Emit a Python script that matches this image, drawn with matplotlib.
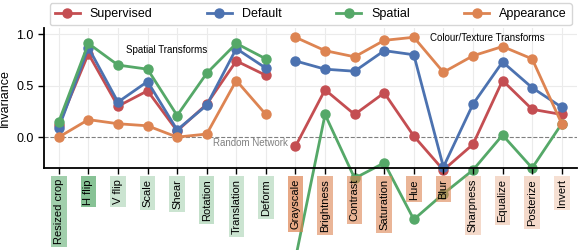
import matplotlib.pyplot as plt
from matplotlib.colors import to_rgba
import numpy as np

plt.rcParams['font.family'] = ['Liberation Sans', 'DejaVu Sans']

spatial_names = ['Resized crop', 'H flip', 'V flip', 'Scale', 'Shear',
                 'Rotation', 'Translation', 'Deform']
colour_names = ['Grayscale', 'Brightness', 'Contrast', 'Saturation', 'Hue',
                'Blur', 'Sharpness', 'Equalize', 'Posterize', 'Invert']

# invariance per transform (spatial group, then colour/texture group)
supervised = [0.12, 0.81, 0.30, 0.45, 0.06, 0.32, 0.74, 0.60,
              -0.09, 0.46, 0.22, 0.43, 0.01, -0.32, -0.07, 0.55, 0.27, 0.22]
default = [0.09, 0.87, 0.34, 0.54, 0.07, 0.31, 0.86, 0.67,
           0.74, 0.66, 0.64, 0.84, 0.80, -0.29, 0.32, 0.73, 0.48, 0.29]
spatial = [0.15, 0.91, 0.70, 0.66, 0.21, 0.62, 0.91, 0.76,
           -1.18, 0.22, -0.40, -0.25, -0.80, -0.55, -0.32, 0.02, -0.30, 0.13]
appearance = [0.00, 0.17, 0.13, 0.11, 0.00, 0.03, 0.55, 0.22,
              0.97, 0.84, 0.78, 0.94, 0.97, 0.63, 0.79, 0.88, 0.76, 0.13]

# shading of the tick label boxes
spatial_shade = [0.55, 0.7, 0.3, 0.3, 0.3, 0.35, 0.3, 0.3]
colour_shade = [0.7, 0.6, 0.6, 0.6, 0.6, 0.6, 0.3, 0.3, 0.3, 0.25]

names = spatial_names + colour_names
n_sp = len(spatial_names)
x = np.arange(len(names))

series = [('Supervised', supervised, '#c44e52'),
          ('Default', default, '#4c72b0'),
          ('Spatial', spatial, '#55a868'),
          ('Appearance', appearance, '#dd8452')]

fig = plt.figure(figsize=(5.82, 2.5), dpi=100)
ax = fig.add_axes([0.0756, 0.328, 0.915, 0.56])

# grid drawn by hand so the tick labels can sit above the lines
for xi in x:
    ax.axvline(xi, color='#ebebeb', lw=0.8, zorder=0.2)
for yi in [0.5, 1.0]:
    ax.axhline(yi, color='#ebebeb', lw=0.8, zorder=0.2)
ax.axhline(0, color='gray', ls='--', lw=0.8, zorder=0.3)

for name, vals, col in series:
    vals = np.array(vals)
    ax.plot(x[:n_sp], vals[:n_sp], '-o', color=col, lw=2, ms=6.5,
            clip_on=False, zorder=1, label=name)
    ax.plot(x[n_sp:], vals[n_sp:], '-o', color=col, lw=2, ms=6.5,
            clip_on=False, zorder=1)

ax.set_xlim(-0.5, 17.5)
ax.set_ylim(-0.30, 1.06)
ax.set_yticks([0.0, 0.5, 1.0])
ax.set_ylabel('Invariance', fontsize=9)
ax.tick_params(axis='y', labelsize=9, length=4, width=1)
ax.set_xticks(x)
ax.set_xticklabels(names, rotation=90, fontsize=8, va='top')
ax.tick_params(axis='x', length=4, width=1, pad=4)
ax.grid(False)
ax.xaxis.set_zorder(4)

for sp in ['top', 'right']:
    ax.spines[sp].set_visible(False)
for sp in ['left', 'bottom']:
    ax.spines[sp].set_linewidth(1.3)
    ax.spines[sp].set_zorder(4)

shades = spatial_shade + colour_shade
for i, lab in enumerate(ax.get_xticklabels()):
    base = '#55a868' if i < n_sp else '#dd8452'
    lab.set_bbox(dict(facecolor=to_rgba(base, shades[i]), edgecolor='none', pad=2))

ax.text(3.65, 0.85, 'Spatial Transforms', fontsize=7, ha='center', va='center')
ax.text(14.5, 0.96, 'Colour/Texture Transforms', fontsize=7, ha='center', va='center')
ax.text(7.75, -0.06, 'Random Network', fontsize=7, color='gray',
        ha='right', va='center')

ax.legend(loc='lower left', bbox_to_anchor=(0.011, 1.02, 0.98, 0.1),
          mode='expand', ncol=4, fontsize=9, borderaxespad=0,
          frameon=True, edgecolor='#cccccc')

fig.savefig('out.png', dpi=100)
